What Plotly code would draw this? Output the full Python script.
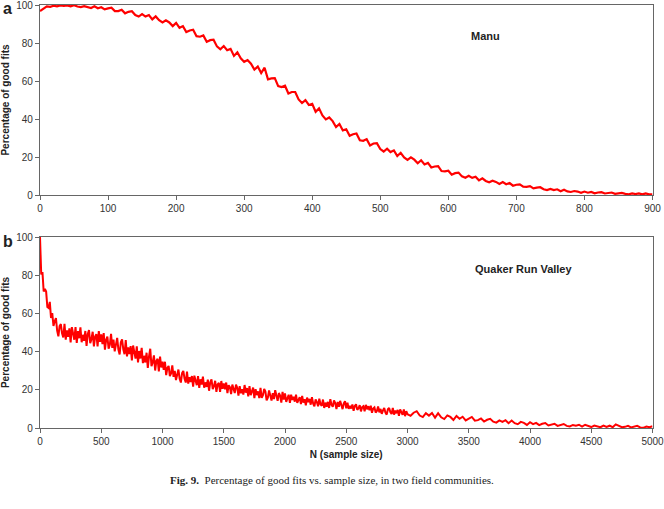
import plotly.graph_objects as go

# ---- data ----
manu_n = list(range(0, 901, 5))
manu_pct = [
    96.8, 98.2, 99.3, 99.0, 99.6,
    99.3, 99.8, 99.5, 99.8, 99.3,
    99.9, 99.2, 98.9, 99.4, 99.1,
    98.4, 99.3, 98.3, 98.8, 97.7,
    98.2, 98.6, 96.8, 96.8, 97.5,
    95.6, 96.4, 96.7, 94.7, 93.9,
    95.2, 93.9, 94.7, 92.4, 94.0,
    92.0, 90.8, 91.9, 90.8, 88.9,
    90.6, 88.0, 88.9, 85.8, 86.6,
    87.0, 83.6, 83.3, 84.0, 80.6,
    81.5, 81.7, 78.2, 76.7, 78.4,
    76.2, 76.9, 73.2, 75.1, 71.9,
    70.1, 71.0, 69.1, 66.0, 67.6,
    64.2, 67.0, 60.9, 61.4, 61.5,
    57.3, 56.8, 57.5, 53.4, 54.2,
    54.2, 50.3, 48.4, 49.9, 47.4,
    48.0, 43.8, 45.6, 41.9, 39.8,
    40.8, 38.9, 35.8, 37.4, 34.0,
    34.6, 31.2, 32.0, 32.4, 28.8,
    28.5, 29.4, 26.1, 27.1, 27.3,
    24.2, 22.9, 24.4, 22.6, 23.5,
    20.5, 22.2, 19.8, 18.5, 19.8,
    18.6, 16.7, 18.3, 16.1, 16.9,
    14.5, 15.0, 15.2, 12.6, 12.4,
    12.8, 10.7, 11.5, 11.8, 9.8,
    9.1, 10.1, 9.0, 9.6, 7.7,
    8.8, 7.4, 6.7, 7.5, 6.9,
    5.8, 6.8, 5.7, 6.3, 4.9,
    5.4, 5.6, 4.4, 4.3, 4.7,
    3.5, 3.9, 4.1, 3.0, 2.6,
    3.2, 2.6, 3.0, 2.0, 2.8,
    1.9, 1.6, 2.1, 1.8, 1.2,
    1.8, 1.2, 1.6, 0.9, 1.3,
    1.5, 0.8, 0.9, 1.3, 0.6,
    1.0, 1.1, 0.6, 0.4, 0.8,
    0.5, 0.8, 0.3, 0.8, 0.3,
    0.3,
]

quaker_n = list(range(0, 3001, 10)) + list(range(3025, 5001, 25))
quaker_pct = [
    # 0 .. 1500, every 10
    100, 80.4, 81.6, 71.5, 72.8, 71.4, 63.3, 62.8, 66.0, 57.6,
    60.1, 53.4, 55.9, 57.5, 51.0, 48.0, 53.4, 54.4, 49.6, 47.4,
    54.5, 46.3, 51.1, 47.8, 52.2, 44.8, 52.8, 49.0, 46.2, 52.8,
    44.6, 50.7, 47.0, 52.7, 44.9, 48.8, 45.6, 50.8, 43.0, 49.2,
    51.3, 44.4, 46.5, 50.4, 42.7, 47.9, 49.1, 42.7, 50.7, 45.1,
    49.0, 43.9, 49.7, 41.0, 46.2, 47.9, 41.5, 43.6, 49.3, 41.9,
    46.3, 40.1, 44.3, 47.2, 41.0, 38.5, 44.9, 46.4, 41.2, 38.6,
    46.0, 37.5, 42.2, 38.7, 42.9, 35.4, 43.2, 39.3, 36.3, 42.8,
    34.4, 40.3, 36.4, 42.0, 34.0, 37.8, 34.3, 39.4, 31.5, 37.5,
    41.5, 32.4, 34.3, 38.0, 30.1, 35.2, 36.2, 29.6, 37.4, 31.7,
    34.8, 30.5, 34.7, 27.7, 31.5, 32.5, 27.2, 28.6, 32.8, 26.8,
    29.9, 25.1, 28.4, 30.6, 25.8, 23.8, 28.8, 29.9, 25.8, 23.8,
    29.5, 23.2, 26.6, 24.1, 27.2, 21.7, 27.4, 24.6, 22.4, 27.2,
    21.0, 25.5, 22.7, 26.9, 21.1, 23.9, 21.5, 25.3, 19.5, 24.0,
    25.5, 20.4, 21.9, 24.7, 18.9, 22.8, 23.6, 18.9, 24.6, 20.5,
    23.3,
    # 1510 .. 3000, every 10
    20.3, 23.8, 18.3, 22.4, 21.4, 17.7, 22.7, 19.9, 18.3, 22.7,
    21.1, 16.9, 21.9, 18.2, 20.3, 17.5, 22.5, 18.5, 20.9, 16.6,
    21.9, 17.2, 18.9, 21.2, 15.7, 20.3, 17.2, 19.2, 15.7, 21.0,
    15.8, 17.2, 20.4, 19.1, 14.5, 15.9, 19.7, 17.5, 14.4, 18.2,
    15.1, 19.8, 15.8, 14.2, 18.3, 17.0, 13.3, 18.9, 14.9, 18.1,
    13.7, 16.3, 17.4, 13.2, 17.4, 14.7, 16.3, 13.8, 17.5, 13.1,
    14.9, 16.2, 12.5, 16.8, 13.3, 15.1, 11.9, 15.9, 13.6, 15.2,
    12.2, 16.2, 12.7, 11.4, 14.9, 13.6, 11.4, 15.4, 12.4, 11.6,
    14.9, 10.5, 13.3, 11.1, 13.7, 10.5, 15.1, 12.1, 11.1, 14.4,
    13.1, 9.9, 13.6, 11.1, 14.2, 11.7, 9.9, 12.9, 14.0, 10.3,
    13.3, 10.0, 11.6, 10.2, 12.3, 9.0, 11.6, 12.4, 9.5, 10.3,
    12.0, 8.7, 10.9, 11.4, 8.7, 12.1, 9.8, 11.4, 9.3, 11.7,
    8.0, 10.2, 10.8, 8.1, 8.9, 11.3, 8.2, 10.0, 7.4, 9.2,
    10.5, 8.0, 7.0, 9.8, 10.5, 8.3, 7.3, 10.5, 7.0, 9.1,
    7.7, 9.5, 6.4, 9.7, 8.2, 6.9, 9.7, 6.2, 8.8, 7.2,
    # 3025 .. 5000, every 25
    6.4, 8.0, 8.8, 6.5, 5.7, 7.8, 6.5,
    7.9, 5.4, 7.7, 5.6, 4.7, 6.6, 5.8, 4.2,
    6.3, 4.8, 5.9, 4.0, 5.0, 5.8, 3.8, 4.1,
    5.0, 3.4, 4.3, 4.8, 3.3, 2.8, 4.0, 3.2,
    4.1, 2.5, 3.9, 2.5, 2.0, 3.2, 2.7, 1.6,
    3.0, 2.0, 2.7, 1.5, 2.2, 2.6, 1.3, 1.6,
    2.2, 1.1, 1.7, 2.1, 1.1, 0.8, 1.6, 1.2,
    1.7, 0.7, 1.7, 0.9, 0.5, 1.3, 1.0, 0.4,
    1.3, 0.6, 1.2, 0.4, 1.9, 1.3, 0.4, 0.6,
    1.1, 0.3, 0.8, 1.1, 0.3, 0.1, 0.8, 0.4,
    0.9,
]

manu_xticks = list(range(0, 901, 100))
quaker_xticks = list(range(0, 5001, 500))
y_ticks = [0, 20, 40, 60, 80, 100]

W, H = 664, 509
RED = "#ff0000"
AX = "#666666"
FONT = "Liberation Sans, Arial, sans-serif"

fig = go.Figure()
fig.add_trace(go.Scatter(x=manu_n, y=manu_pct, mode="lines",
                         line=dict(color=RED, width=2.2), xaxis="x", yaxis="y",
                         showlegend=False))
fig.add_trace(go.Scatter(x=quaker_n, y=quaker_pct, mode="lines",
                         line=dict(color=RED, width=2.0), xaxis="x2", yaxis="y2",
                         showlegend=False))

xd = [40 / W, 652.5 / W]
ya = [1 - 195 / H, 1 - 5 / H]
yb = [1 - 428 / H, 1 - 237 / H]

axis_common = dict(showline=True, linecolor=AX, linewidth=1.2, mirror=True,
                   ticks="outside", ticklen=4, tickcolor=AX, showgrid=False,
                   zeroline=False, automargin=False, ticklabeloverflow="allow",
                   tickfont=dict(family=FONT, size=10, color="#333"))

title_font = dict(family=FONT, size=10, color="#222")

fig.update_layout(
    width=W, height=H, margin=dict(l=0, r=0, t=0, b=0),
    paper_bgcolor="white", plot_bgcolor="white",
    xaxis=dict(domain=xd, range=[0, 900], tickvals=manu_xticks, anchor="y", **axis_common),
    yaxis=dict(domain=ya, range=[0, 100], tickvals=y_ticks, anchor="x",
               title=dict(text="<b>Percentage of good fits</b>", font=title_font, standoff=4),
               **axis_common),
    xaxis2=dict(domain=xd, range=[0, 5000], tickvals=quaker_xticks, anchor="y2",
                title=dict(text="<b>N (sample size)</b>", font=title_font, standoff=4),
                **axis_common),
    yaxis2=dict(domain=yb, range=[0, 100], tickvals=y_ticks, anchor="x2",
                title=dict(text="<b>Percentage of good fits</b>", font=title_font, standoff=4),
                **axis_common),
)

ann = [
    dict(text="<b>a</b>", x=1 / W, y=1 - 8 / H, size=16, family=FONT, xa="left"),
    dict(text="<b>b</b>", x=1 / W, y=1 - 241 / H, size=16, family=FONT, xa="left"),
    dict(text="<b>Manu</b>", x=485 / W, y=1 - 36 / H, size=11, family=FONT, xa="center"),
    dict(text="<b>Quaker Run Valley</b>", x=523 / W, y=1 - 269 / H, size=11, family=FONT, xa="center"),
    dict(text="<b>Fig. 9.</b>  Percentage of good fits vs. sample size, in two field communities.",
         x=332 / W, y=1 - 480 / H, size=11, family="Liberation Serif, Times New Roman, serif", xa="center"),
]
for a in ann:
    fig.add_annotation(text=a["text"], x=a["x"], y=a["y"], xref="paper", yref="paper",
                       xanchor=a["xa"], yanchor="middle", showarrow=False,
                       font=dict(family=a["family"], size=a["size"], color="#222"))

fig.write_html("out.html")
